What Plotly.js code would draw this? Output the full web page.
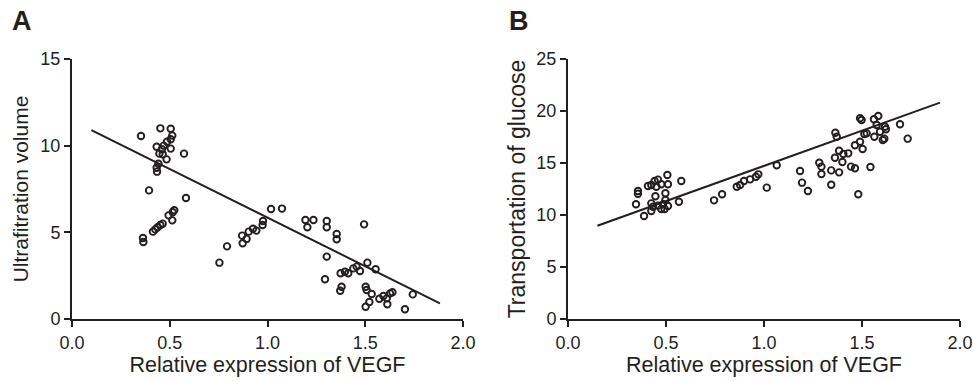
<!DOCTYPE html>
<html>
<head>
<meta charset="utf-8">
<script src="https://cdn.plot.ly/plotly-3.0.1.min.js"></script>
<style>html,body{margin:0;padding:0;background:#fff;}#chart{width:973px;height:381px;}</style>
</head>
<body>
<div id="chart"></div>
<script>
// Panel A: VEGF vs ultrafiltration volume
const vegfA = [0.353,0.452,0.505,0.513,0.505,0.486,0.469,0.433,0.505,0.46,0.447,0.464,0.484,0.573,0.442,0.433,0.435,0.394,0.583,0.523,0.515,0.494,0.513,0.464,0.452,0.438,0.426,0.414,0.363,0.365,
  0.754,0.793,0.870,0.873,0.893,0.904,0.926,0.943,0.977,0.975,1.018,1.074,1.194,1.235,1.204,1.303,1.303,1.354,1.354,1.494,1.303,1.294,1.374,1.396,1.413,1.439,1.456,1.473,1.511,1.553,
  1.379,1.372,1.502,1.507,1.533,1.502,1.521,1.572,1.593,1.610,1.627,1.639,1.613,1.743,1.703];
const ufA = [10.56,11.0,10.98,10.58,10.37,10.23,10.0,9.94,9.83,9.79,9.54,9.50,9.21,9.54,8.96,8.73,8.50,7.42,6.98,6.27,6.16,5.98,5.69,5.50,5.42,5.29,5.17,5.04,4.67,4.44,
  3.25,4.19,4.81,4.37,4.62,5.04,5.21,5.10,5.65,5.42,6.35,6.37,5.71,5.71,5.29,5.65,5.29,4.90,4.60,5.46,3.60,2.29,2.64,2.73,2.64,2.92,3.02,2.77,3.25,2.87,
  1.86,1.63,1.86,1.67,1.44,0.71,0.98,1.17,1.33,1.19,1.48,1.54,0.85,1.42,0.56];
const fitAx = [0.099, 1.882];
const fitAy = [10.9, 0.9];

// Panel B: VEGF vs transportation of glucose
const vegfB = [0.357,0.357,0.347,0.388,0.408,0.425,0.442,0.459,0.451,0.476,0.507,0.510,0.578,0.446,0.497,0.497,0.425,0.434,0.425,0.459,0.476,0.493,0.510,0.485,0.566,0.745,0.786,
  0.861,0.878,0.898,0.929,0.959,0.971,1.014,1.065,1.184,1.194,1.224,1.282,1.293,1.293,1.343,1.343,1.383,1.364,1.371,1.362,1.383,1.405,1.400,1.430,1.444,1.464,1.464,1.490,1.503,
  1.512,1.524,1.490,1.498,1.481,1.543,1.561,1.583,1.592,1.575,1.563,1.617,1.622,1.606,1.614,1.694,1.733];
const glucB = [12.31,12.05,11.03,9.90,12.79,12.88,13.27,13.4,12.72,12.95,13.85,12.95,13.27,11.8,12.09,11.44,11.12,10.8,10.38,10.9,10.58,10.58,10.87,11.03,11.28,11.41,11.99,
  12.72,12.88,13.27,13.43,13.68,13.91,12.63,14.78,14.23,13.11,12.31,15.03,14.65,13.94,14.29,12.91,14.1,17.91,17.53,15.51,16.18,15.87,15.1,15.93,14.65,14.49,16.7,17.05,16.35,
  17.79,17.85,19.3,19.13,11.99,14.62,19.2,19.52,18.01,18.65,17.53,18.49,18.24,17.21,17.34,18.72,17.34];
const fitBx = [0.150, 1.898];
const fitBy = [8.97, 20.8];

const xTicks = [0, 0.5, 1.0, 1.5, 2.0];
const yTicksA = [0, 5, 10, 15];
const yTicksB = [0, 5, 10, 15, 20, 25];

const ink = '#231f20';
const FONT = 'Liberation Sans, Arial, sans-serif';
const TICK = 18;
const marker = {symbol: 'circle-open', size: 6.5, color: ink, line: {width: 1.9, color: ink}};

const traces = [
  {x: vegfA, y: ufA, type: 'scatter', mode: 'markers', marker: marker, xaxis: 'x', yaxis: 'y', hoverinfo: 'x+y'},
  {x: fitAx, y: fitAy, type: 'scatter', mode: 'lines', line: {color: ink, width: 2}, xaxis: 'x', yaxis: 'y'},
  {x: vegfB, y: glucB, type: 'scatter', mode: 'markers', marker: marker, xaxis: 'x2', yaxis: 'y2', hoverinfo: 'x+y'},
  {x: fitBx, y: fitBy, type: 'scatter', mode: 'lines', line: {color: ink, width: 2}, xaxis: 'x2', yaxis: 'y2'}
];

const W = 973, H = 381;
const yDom = [1 - 319 / H, 1 - 59 / H];
const axBase = {
  showline: true, linecolor: ink, linewidth: 2, ticks: 'outside', ticklen: 6, tickwidth: 2, tickcolor: ink,
  showgrid: false, zeroline: false, tickfont: {family: FONT, size: TICK, color: ink}, fixedrange: true
};
const xBase = Object.assign({}, axBase, {range: [0, 2], tickvals: xTicks, tickformat: '.1f',
  title: {text: 'Relative expression of VEGF', font: {family: FONT, size: 21.5, color: ink}, standoff: 4}});

const layout = {
  width: W, height: H, margin: {l: 0, r: 0, t: 0, b: 0},
  paper_bgcolor: '#fff', plot_bgcolor: '#fff', showlegend: false,
  xaxis: Object.assign({}, xBase, {domain: [72 / W, 463 / W], anchor: 'y'}),
  yaxis: Object.assign({}, axBase, {domain: yDom, range: [0, 15], tickvals: yTicksA, anchor: 'x',
    title: {text: 'Ultrafitration volume', font: {family: FONT, size: 21, color: ink}, standoff: 6}}),
  xaxis2: Object.assign({}, xBase, {domain: [568 / W, 960 / W], anchor: 'y2'}),
  yaxis2: Object.assign({}, axBase, {domain: yDom, range: [0, 25], tickvals: yTicksB, anchor: 'x2',
    title: {text: 'Transportation of glucose', font: {family: FONT, size: 23, color: ink}, standoff: 4}}),
  annotations: [
    {text: '<b>A</b>', x: 10 / W, y: 1 - 21 / H, xref: 'paper', yref: 'paper', xanchor: 'left', yanchor: 'middle', showarrow: false, font: {family: FONT, size: 27, color: ink}},
    {text: '<b>B</b>', x: 507 / W, y: 1 - 21 / H, xref: 'paper', yref: 'paper', xanchor: 'left', yanchor: 'middle', showarrow: false, font: {family: FONT, size: 27, color: ink}}
  ]
};

Plotly.newPlot('chart', traces, layout, {displayModeBar: false, staticPlot: true});
</script>
</body>
</html>
